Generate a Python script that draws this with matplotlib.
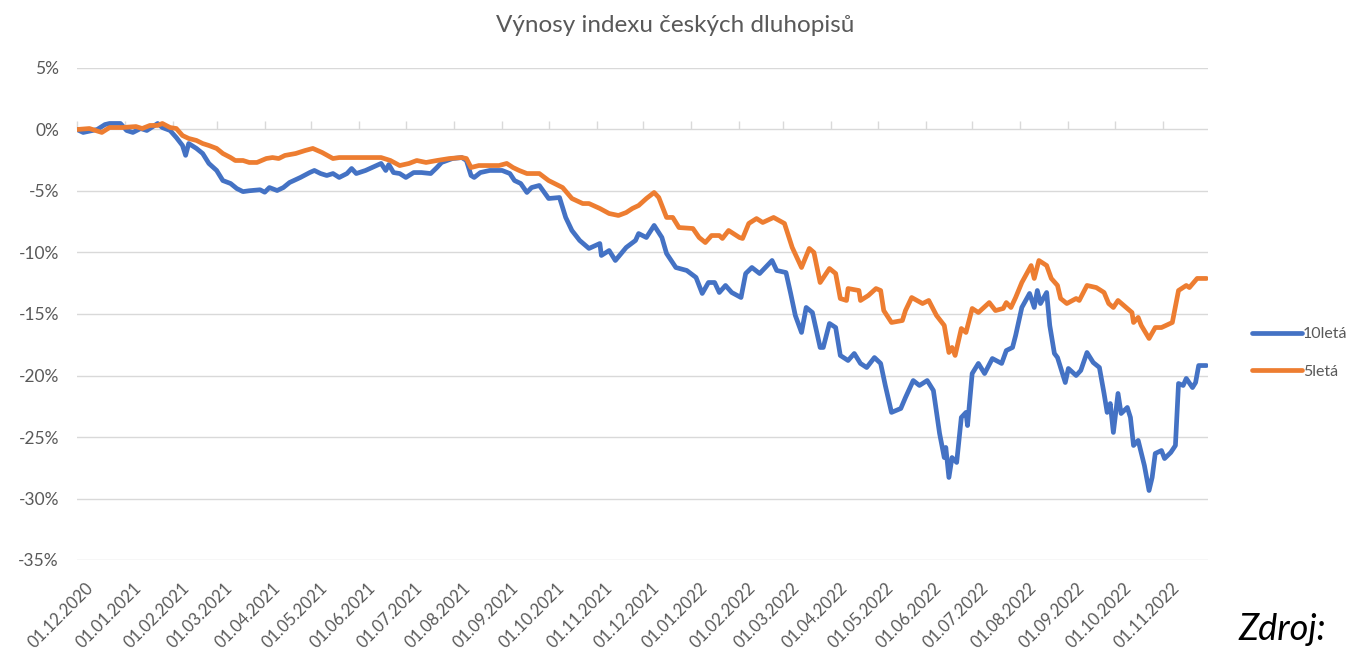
import pandas as pd
import matplotlib
matplotlib.use("Agg")
import matplotlib.pyplot as plt
import matplotlib.dates as mdates
import matplotlib.transforms as mtransforms
from matplotlib.ticker import FuncFormatter

plt.rcParams["font.family"] = ["Lato", "DejaVu Sans"]
plt.rcParams["axes.unicode_minus"] = False

# výnosy v %
dates_10 = ["2020-12-01", "2020-12-05", "2020-12-14", "2020-12-19", "2020-12-22", "2020-12-29",
            "2021-01-02", "2021-01-06", "2021-01-11", "2021-01-15", "2021-01-22", "2021-01-25",
            "2021-01-30", "2021-02-03", "2021-02-07", "2021-02-09", "2021-02-11", "2021-02-16",
            "2021-02-20", "2021-02-24", "2021-03-01", "2021-03-05", "2021-03-10", "2021-03-14",
            "2021-03-18", "2021-03-22", "2021-03-29", "2021-04-01", "2021-04-04", "2021-04-09",
            "2021-04-13", "2021-04-17", "2021-04-24", "2021-04-30", "2021-05-03", "2021-05-07",
            "2021-05-11", "2021-05-15", "2021-05-19", "2021-05-24", "2021-05-27", "2021-05-30",
            "2021-06-05", "2021-06-12", "2021-06-15", "2021-06-18", "2021-06-20", "2021-06-23",
            "2021-06-27", "2021-07-01", "2021-07-06", "2021-07-11", "2021-07-17", "2021-07-21",
            "2021-07-24", "2021-07-31", "2021-08-06", "2021-08-09", "2021-08-12", "2021-08-14",
            "2021-08-18", "2021-08-24", "2021-09-01", "2021-09-06", "2021-09-09", "2021-09-13",
            "2021-09-17", "2021-09-20", "2021-09-25", "2021-10-01", "2021-10-08", "2021-10-12",
            "2021-10-16", "2021-10-21", "2021-10-27", "2021-11-03", "2021-11-04", "2021-11-09",
            "2021-11-13", "2021-11-20", "2021-11-26", "2021-11-28", "2021-12-03", "2021-12-08",
            "2021-12-13", "2021-12-16", "2021-12-22", "2021-12-29", "2022-01-04", "2022-01-08",
            "2022-01-12", "2022-01-16", "2022-01-19", "2022-01-23", "2022-01-27", "2022-02-02",
            "2022-02-05", "2022-02-09", "2022-02-14", "2022-02-22", "2022-02-25", "2022-03-03",
            "2022-03-06", "2022-03-09", "2022-03-13", "2022-03-16", "2022-03-20", "2022-03-25",
            "2022-03-27", "2022-03-31", "2022-04-04", "2022-04-07", "2022-04-12", "2022-04-16",
            "2022-04-20", "2022-04-24", "2022-04-29", "2022-05-03", "2022-05-06", "2022-05-10",
            "2022-05-16", "2022-05-19", "2022-05-24", "2022-05-28", "2022-06-02", "2022-06-06",
            "2022-06-10", "2022-06-13", "2022-06-14", "2022-06-16", "2022-06-18", "2022-06-21",
            "2022-06-24", "2022-06-27", "2022-06-28", "2022-07-01", "2022-07-05", "2022-07-09",
            "2022-07-14", "2022-07-20", "2022-07-23", "2022-07-27", "2022-07-29", "2022-08-02",
            "2022-08-07", "2022-08-10", "2022-08-12", "2022-08-14", "2022-08-18", "2022-08-20",
            "2022-08-23", "2022-08-25", "2022-08-30", "2022-09-01", "2022-09-06", "2022-09-09",
            "2022-09-13", "2022-09-17", "2022-09-21", "2022-09-24", "2022-09-26", "2022-09-28",
            "2022-09-30", "2022-10-03", "2022-10-05", "2022-10-09", "2022-10-11", "2022-10-13",
            "2022-10-16", "2022-10-20", "2022-10-23", "2022-10-25", "2022-10-27", "2022-10-31",
            "2022-11-02", "2022-11-06", "2022-11-09", "2022-11-11", "2022-11-14", "2022-11-16",
            "2022-11-20", "2022-11-22", "2022-11-24", "2022-11-29"]
vynos_10 = [0.0, -0.24, 0.0, 0.4, 0.49, 0.49,
            -0.08, -0.24, 0.08, -0.08, 0.49, 0.16,
            -0.08, -0.65, -1.3, -2.1, -1.14, -1.54,
            -1.95, -2.76, -3.33, -4.15, -4.39, -4.8,
            -5.05, -4.98, -4.9, -5.1, -4.72, -4.96,
            -4.72, -4.31, -3.9, -3.5, -3.33, -3.58,
            -3.74, -3.58, -3.9, -3.58, -3.17, -3.58,
            -3.33, -2.93, -2.76, -3.33, -2.85, -3.5,
            -3.58, -3.9, -3.5, -3.5, -3.58, -3.09,
            -2.68, -2.36, -2.28, -2.52, -3.74, -3.9,
            -3.5, -3.33, -3.33, -3.58, -4.15, -4.39,
            -5.12, -4.72, -4.55, -5.61, -5.53, -7.15,
            -8.21, -9.02, -9.67, -9.27, -10.24, -9.84,
            -10.65, -9.59, -9.02, -8.46, -8.78, -7.8,
            -8.78, -10.08, -11.22, -11.46, -12.03, -13.33,
            -12.44, -12.44, -13.25, -12.68, -13.25, -13.66,
            -11.71, -11.22, -11.71, -10.65, -11.46, -11.63,
            -13.33, -15.12, -16.5, -14.47, -14.88, -17.72,
            -17.72, -15.77, -16.1, -18.37, -18.78, -18.21,
            -19.02, -19.35, -18.54, -19.02, -20.81, -23.0,
            -22.68, -21.79, -20.41, -20.81, -20.41, -21.22,
            -24.72, -26.67, -25.85, -28.29, -26.67, -27.07,
            -23.41, -23.0, -24.07, -19.84, -19.02, -19.84,
            -18.62, -19.02, -17.97, -17.72, -16.75, -14.47,
            -13.33, -14.47, -13.09, -14.15, -13.25, -15.93,
            -18.21, -18.54, -20.57, -19.43, -20.0, -19.59,
            -18.13, -18.94, -19.35, -21.46, -23.0, -22.28,
            -24.63, -21.46, -23.09, -22.6, -23.41, -25.69,
            -25.28, -27.32, -29.35, -28.29, -26.34, -26.1,
            -26.75, -26.26, -25.69, -20.65, -20.81, -20.24,
            -20.98, -20.57, -19.19, -19.19]

dates_5 = ["2020-12-01", "2020-12-09", "2020-12-17", "2020-12-22", "2020-12-30", "2021-01-08",
           "2021-01-12", "2021-01-17", "2021-01-22", "2021-01-25", "2021-01-30", "2021-02-03",
           "2021-02-07", "2021-02-11", "2021-02-16", "2021-02-20", "2021-02-24", "2021-03-01",
           "2021-03-05", "2021-03-10", "2021-03-13", "2021-03-18", "2021-03-22", "2021-03-27",
           "2021-04-02", "2021-04-06", "2021-04-10", "2021-04-14", "2021-04-21", "2021-04-27",
           "2021-05-02", "2021-05-08", "2021-05-15", "2021-05-19", "2021-05-26", "2021-06-05",
           "2021-06-15", "2021-06-21", "2021-06-27", "2021-07-03", "2021-07-08", "2021-07-14",
           "2021-07-21", "2021-07-29", "2021-08-06", "2021-08-09", "2021-08-12", "2021-08-17",
           "2021-08-30", "2021-09-04", "2021-09-08", "2021-09-12", "2021-09-17", "2021-09-25",
           "2021-10-01", "2021-10-10", "2021-10-16", "2021-10-23", "2021-10-27", "2021-11-03",
           "2021-11-09", "2021-11-15", "2021-11-20", "2021-11-24", "2021-11-28", "2021-12-03",
           "2021-12-08", "2021-12-11", "2021-12-16", "2021-12-20", "2021-12-24", "2022-01-02",
           "2022-01-06", "2022-01-10", "2022-01-14", "2022-01-19", "2022-01-21", "2022-01-25",
           "2022-02-01", "2022-02-03", "2022-02-07", "2022-02-12", "2022-02-16", "2022-02-23",
           "2022-03-02", "2022-03-07", "2022-03-13", "2022-03-18", "2022-03-21", "2022-03-25",
           "2022-03-31", "2022-04-04", "2022-04-07", "2022-04-11", "2022-04-12", "2022-04-19",
           "2022-04-20", "2022-04-25", "2022-04-30", "2022-05-03", "2022-05-05", "2022-05-10",
           "2022-05-17", "2022-05-19", "2022-05-23", "2022-05-30", "2022-06-03", "2022-06-08",
           "2022-06-13", "2022-06-16", "2022-06-18", "2022-06-20", "2022-06-24", "2022-06-27",
           "2022-07-01", "2022-07-05", "2022-07-12", "2022-07-16", "2022-07-21", "2022-07-23",
           "2022-07-26", "2022-07-29", "2022-08-02", "2022-08-08", "2022-08-10", "2022-08-13",
           "2022-08-18", "2022-08-21", "2022-08-25", "2022-08-27", "2022-08-31", "2022-09-06",
           "2022-09-08", "2022-09-13", "2022-09-19", "2022-09-24", "2022-09-27", "2022-09-30",
           "2022-10-03", "2022-10-09", "2022-10-12", "2022-10-13", "2022-10-16", "2022-10-18",
           "2022-10-23", "2022-10-27", "2022-10-31", "2022-11-07", "2022-11-11", "2022-11-16",
           "2022-11-18", "2022-11-23", "2022-11-29"]
vynos_5 = [0.0, 0.08, -0.24, 0.16, 0.16, 0.24,
           0.08, 0.33, 0.33, 0.49, 0.16, 0.08,
           -0.49, -0.73, -0.89, -1.14, -1.3, -1.54,
           -1.95, -2.28, -2.52, -2.52, -2.68, -2.68,
           -2.36, -2.28, -2.36, -2.11, -1.95, -1.71,
           -1.54, -1.87, -2.36, -2.28, -2.28, -2.28,
           -2.28, -2.52, -2.93, -2.76, -2.52, -2.68,
           -2.52, -2.36, -2.28, -2.36, -3.09, -2.93,
           -2.93, -2.76, -3.09, -3.33, -3.58, -3.58,
           -4.15, -4.72, -5.61, -6.02, -6.02, -6.42,
           -6.83, -6.99, -6.75, -6.42, -6.18, -5.61,
           -5.12, -5.53, -7.15, -7.15, -7.97, -8.05,
           -8.78, -9.19, -8.62, -8.62, -8.86, -8.21,
           -8.78, -8.86, -7.64, -7.24, -7.56, -7.15,
           -7.64, -9.59, -11.22, -9.67, -10.0, -12.44,
           -11.3, -11.71, -13.74, -13.9, -12.93, -13.09,
           -13.9, -13.5, -12.93, -13.09, -14.72, -15.69,
           -15.53, -14.72, -13.66, -14.15, -13.9, -15.12,
           -15.93, -18.13, -17.72, -18.37, -16.18, -16.5,
           -14.55, -14.88, -14.07, -14.72, -14.55, -14.07,
           -14.47, -13.66, -12.44, -11.06, -12.11, -10.65,
           -11.06, -12.11, -12.68, -13.74, -14.15, -13.74,
           -13.9, -12.68, -12.85, -13.25, -14.15, -14.47,
           -13.9, -14.55, -14.88, -15.69, -15.28, -15.93,
           -16.99, -16.1, -16.1, -15.69, -13.09, -12.68,
           -12.85, -12.11, -12.11]

month_ticks = pd.date_range("2020-12-01", "2022-11-01", freq="MS")

blue = "#4472C4"
orange = "#ED7D31"
grid_c = "#D9D9D9"
text_c = "#595959"

fig = plt.figure(figsize=(13.52, 6.48), dpi=100)
ax = fig.add_axes([77 / 1352, 1 - 560 / 648, (1208 - 77) / 1352, (560 - 68) / 648])

ax.plot(pd.to_datetime(dates_10), vynos_10, color=blue, lw=3.4, label="10letá",
        solid_joinstyle="round", solid_capstyle="round")
ax.plot(pd.to_datetime(dates_5), vynos_5, color=orange, lw=3.4, label="5letá",
        solid_joinstyle="round", solid_capstyle="round")

ax.set_ylim(-35, 5)
ax.set_yticks(range(-35, 10, 5))
ax.yaxis.set_major_formatter(FuncFormatter(lambda v, p: f"{v:.0f}%"))
ax.set_xlim(pd.Timestamp("2020-12-01"), pd.Timestamp("2022-11-30"))

ax.grid(axis="y", color=grid_c, lw=1)
ax.set_axisbelow(True)
for s in ax.spines.values():
    s.set_visible(False)

ax.tick_params(axis="y", length=0, pad=13, labelsize=12.5, labelcolor=text_c)
ax.set_xticks(month_ticks)
ax.xaxis.set_major_formatter(mdates.DateFormatter("%d.%m.%Y"))
ax.tick_params(axis="x", length=0, pad=14, labelsize=12, labelcolor=text_c)
offset = mtransforms.ScaledTranslation(8 / 100, 0, fig.dpi_scale_trans)
for lab in ax.get_xticklabels():
    lab.set_rotation(45)
    lab.set_ha("right")
    lab.set_va("top")
    lab.set_rotation_mode("anchor")
    lab.set_transform(lab.get_transform() + offset)

# osa x prochází nulou - jen značky
sec = ax.secondary_xaxis(35 / 40)
sec.set_xticks(month_ticks)
sec.tick_params(axis="x", length=6, width=1, color=grid_c, labelbottom=False, labeltop=False)
sec.spines["bottom"].set_color(grid_c)
sec.spines["top"].set_visible(False)

fig.text(675 / 1352, 1 - 25 / 648, "Výnosy indexu českých dluhopisů", ha="center", va="center",
         fontsize=17.5, color=text_c)

fig.legend(loc="center left", bbox_to_anchor=(1252 / 1352, 1 - 353 / 648), frameon=False,
           fontsize=11.5, labelcolor=text_c, handlelength=3.1, handletextpad=0.1,
           labelspacing=1.45, borderaxespad=0, borderpad=0)

fig.text(1238 / 1352, 1 - 629 / 648, "Zdroj:", ha="left", va="center", fontsize=26,
         style="italic", color="black")

fig.savefig("out.png", dpi=100)
